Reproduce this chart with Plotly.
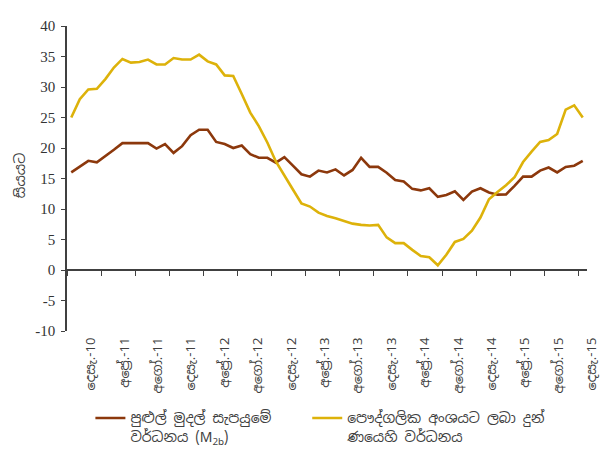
import plotly.graph_objects as go

tick_labels = ["දෙසැ.-10", "අප්‍රේ.-11", "අගෝ.-11", "දෙසැ.-11", "අප්‍රේ.-12", "අගෝ.-12",
               "දෙසැ.-12", "අප්‍රේ.-13", "අගෝ.-13", "දෙසැ.-13", "අප්‍රේ.-14", "අගෝ.-14",
               "දෙසැ.-14", "අප්‍රේ.-15", "අගෝ.-15", "දෙසැ.-15"]

y_tick_vals = [-10, -5, 0, 5, 10, 15, 20, 25, 30, 35, 40]
y_tick_text = ["-10", "-5", "0", "5", "10", "15", "20", "25", "30", "35", "40"]

# monthly, Dec-2010 .. Dec-2015 (61 months)
months = list(range(61))

m2b_growth = [16.0, 16.9, 17.9, 17.65, 18.6, 19.7, 20.8, 20.8, 20.8, 20.8,
              19.9, 20.65, 19.2, 20.3, 22.1, 23.0, 23.0, 21.0, 20.65, 20.0,
              20.4, 19.0, 18.4, 18.4, 17.6, 18.5, 17.1, 15.7, 15.3, 16.3,
              16.0, 16.5, 15.5, 16.4, 18.4, 16.9, 16.9, 15.95, 14.75, 14.5,
              13.3, 13.05, 13.4, 12.0, 12.3, 12.9, 11.5, 12.85, 13.4, 12.7,
              12.35, 12.4, 13.8, 15.3, 15.3, 16.3, 16.8, 16.0, 16.9, 17.1,
              17.9]

credit_growth = [25.0, 28.0, 29.6, 29.7, 31.3, 33.2, 34.6, 34.0, 34.1, 34.5,
                 33.7, 33.7, 34.75, 34.5, 34.5, 35.3, 34.2, 33.7, 31.9, 31.8,
                 28.85, 25.8, 23.6, 20.9, 17.8, 15.4, 13.2, 10.9, 10.4, 9.4,
                 8.85, 8.5, 8.0, 7.6, 7.4, 7.3, 7.4, 5.35, 4.4, 4.4,
                 3.3, 2.3, 2.1, 0.77, 2.5, 4.6, 5.1, 6.45, 8.6, 11.6,
                 12.8, 13.9, 15.2, 17.7, 19.4, 21.0, 21.3, 22.3, 26.3, 27.0,
                 25.0]

label_vals = list(range(0, 61, 4))
boundary_ticks = [v - 0.5 for v in label_vals]

name_m2b = "පුළුල් මුදල් සැපයුමේ<br>වර්ධනය (M<sub>2b</sub>)"
name_credit = "පෞද්ගලික අංශයට ලබා දුන්<br>ණයෙහි වර්ධනය"
y_title = "සියයට"

BROWN = "#8C380C"
YELLOW = "#DDB20A"
AXIS = "#404040"
SERIF = "Liberation Serif, Times New Roman, serif"
SIN = "Noto Sans Sinhala, Iskoola Pota, Noto Serif Sinhala, sans-serif"

fig = go.Figure()
fig.add_trace(go.Scatter(x=months, y=m2b_growth, mode="lines", name=name_m2b,
                         line=dict(color=BROWN, width=2.6), legend="legend"))
fig.add_trace(go.Scatter(x=months, y=credit_growth, mode="lines", name=name_credit,
                         line=dict(color=YELLOW, width=2.6), legend="legend2"))

legend_common = dict(orientation="v", xanchor="left", yanchor="top", y=-0.234,
                     font=dict(family=SIN, size=14, color=AXIS), itemwidth=30,
                     valign="top", bgcolor="rgba(0,0,0,0)")

fig.update_layout(
    width=602, height=465,
    margin=dict(l=67, r=15, t=26, b=134),
    paper_bgcolor="white", plot_bgcolor="white",
    showlegend=True,
    legend=dict(x=0.045, **legend_common),
    legend2=dict(x=0.462, **legend_common),
    xaxis=dict(range=[-0.5, 60.5], anchor="free", position=0.2,
               showline=True, linecolor=AXIS, linewidth=1.5,
               ticks="outside", ticklen=5, tickcolor=AXIS,
               tickvals=boundary_ticks, showticklabels=False,
               showgrid=False, zeroline=False, automargin=False),
    # label axis: month labels spaced slightly tighter than the data, as in the original
    xaxis2=dict(range=[-1.68, 60.6], overlaying="x", anchor="y", side="bottom",
                showline=False, ticks="", tickvals=label_vals, ticktext=tick_labels,
                tickangle=-90, ticklabelshift=10, ticklabelstandoff=3,
                ticklabeloverflow="allow",
                showgrid=False, zeroline=False, automargin=False,
                tickfont=dict(family=SIN, size=13, color=AXIS)),
    yaxis=dict(range=[-10, 40], tickvals=y_tick_vals, ticktext=y_tick_text,
               showline=True, linecolor=AXIS, linewidth=1.5,
               ticks="outside", ticklen=4, tickcolor=AXIS, showgrid=False, zeroline=False,
               automargin=False, ticklabelstandoff=3,
               tickfont=dict(family=SERIF, size=15, color="#333333")),
    annotations=[dict(text=y_title, xref="paper", yref="paper", x=-0.0904, y=0.511,
                      textangle=-90, showarrow=False, xanchor="center", yanchor="middle",
                      font=dict(family=SIN, size=14, color=AXIS))],
)
# dummy invisible trace to activate the label axis
fig.add_trace(go.Scatter(x=[0], y=[None], xaxis="x2", showlegend=False, hoverinfo="skip"))

fig.write_html("out.html", config={"displayModeBar": False},
               post_script="document.body.style.margin='0';")
